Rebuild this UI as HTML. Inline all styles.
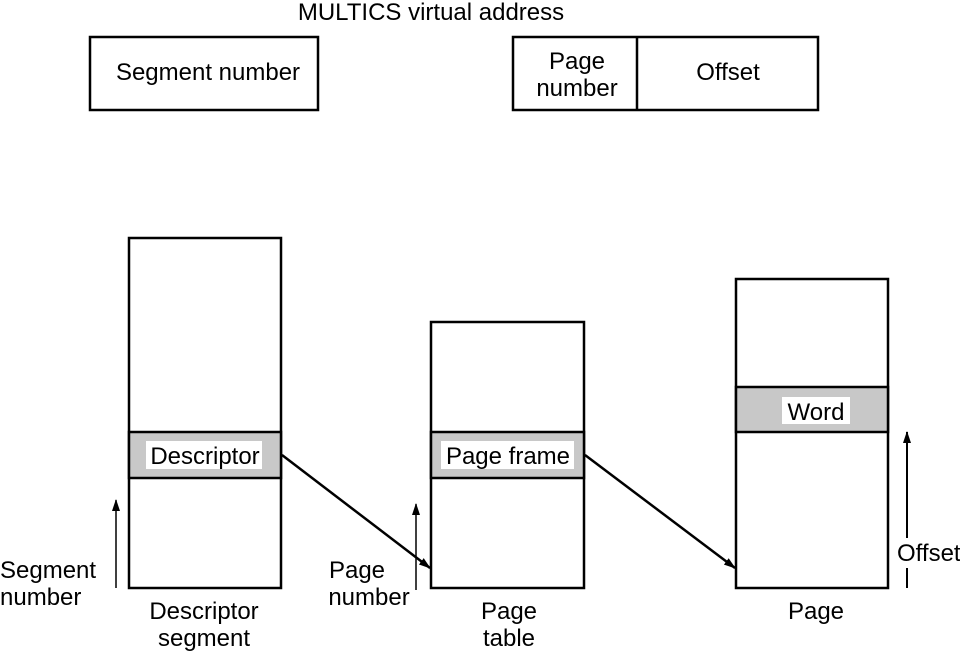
<!DOCTYPE html>
<html><head><meta charset="utf-8"><style>
html,body{margin:0;padding:0;background:#fff;}
svg{display:block;}
text{font-family:"Liberation Sans",Arial,sans-serif;font-size:24px;fill:#000;}
</style></head><body>
<svg width="960" height="651" viewBox="0 0 960 651" xmlns="http://www.w3.org/2000/svg">
<defs><marker id="a" markerWidth="12" markerHeight="8" refX="11" refY="4" orient="auto" markerUnits="userSpaceOnUse"><path d="M0,0 L12,4 L0,8 Z" fill="#000"/></marker></defs>
<g stroke="#000" stroke-width="2.5" fill="none">
<text x="431" y="20" text-anchor="middle" stroke="none">MULTICS virtual address</text>
<rect x="90" y="37" width="228" height="73"/>
<rect x="513" y="37" width="305" height="73"/>
<line x1="637" y1="37" x2="637" y2="110"/>
<rect x="129" y="238" width="152" height="350"/>
<rect x="129" y="432" width="152" height="46" fill="#c8c8c8"/>
<rect x="431" y="322" width="153" height="266"/>
<rect x="431" y="432" width="153" height="46" fill="#c8c8c8"/>
<rect x="736" y="279" width="152" height="309"/>
<rect x="736" y="387" width="152" height="45" fill="#c8c8c8"/>
<line x1="282" y1="455" x2="430" y2="568" marker-end="url(#a)"/>
<line x1="585" y1="455" x2="735" y2="568" marker-end="url(#a)"/>
<line x1="116" y1="588" x2="116" y2="500" stroke-width="1.5" marker-end="url(#a)"/>
<line x1="416" y1="590" x2="416" y2="504" stroke-width="1.5" marker-end="url(#a)"/>
<line x1="907" y1="588" x2="907" y2="568" stroke-width="2"/>
<line x1="907" y1="538" x2="907" y2="432" stroke-width="2" marker-end="url(#a)"/>
</g>
<rect x="146" y="441" width="116" height="28" fill="#fff"/>
<rect x="441" y="441" width="133" height="28" fill="#fff"/>
<rect x="782" y="397" width="68" height="27" fill="#fff"/>
<text x="208" y="80" text-anchor="middle">Segment number</text>
<text x="577" y="69" text-anchor="middle">Page</text>
<text x="577" y="96" text-anchor="middle">number</text>
<text x="728" y="80" text-anchor="middle">Offset</text>
<text x="205" y="464" text-anchor="middle">Descriptor</text>
<text x="508" y="464" text-anchor="middle">Page frame</text>
<text x="816" y="420" text-anchor="middle">Word</text>
<text x="0" y="578">Segment</text>
<text x="0" y="605">number</text>
<text x="357" y="578" text-anchor="middle">Page</text>
<text x="369" y="605" text-anchor="middle">number</text>
<text x="204" y="619" text-anchor="middle">Descriptor</text>
<text x="204" y="646" text-anchor="middle">segment</text>
<text x="509" y="619" text-anchor="middle">Page</text>
<text x="509" y="646" text-anchor="middle">table</text>
<text x="816" y="619" text-anchor="middle">Page</text>
<text x="897" y="561">Offset</text>
</svg>
</body></html>
